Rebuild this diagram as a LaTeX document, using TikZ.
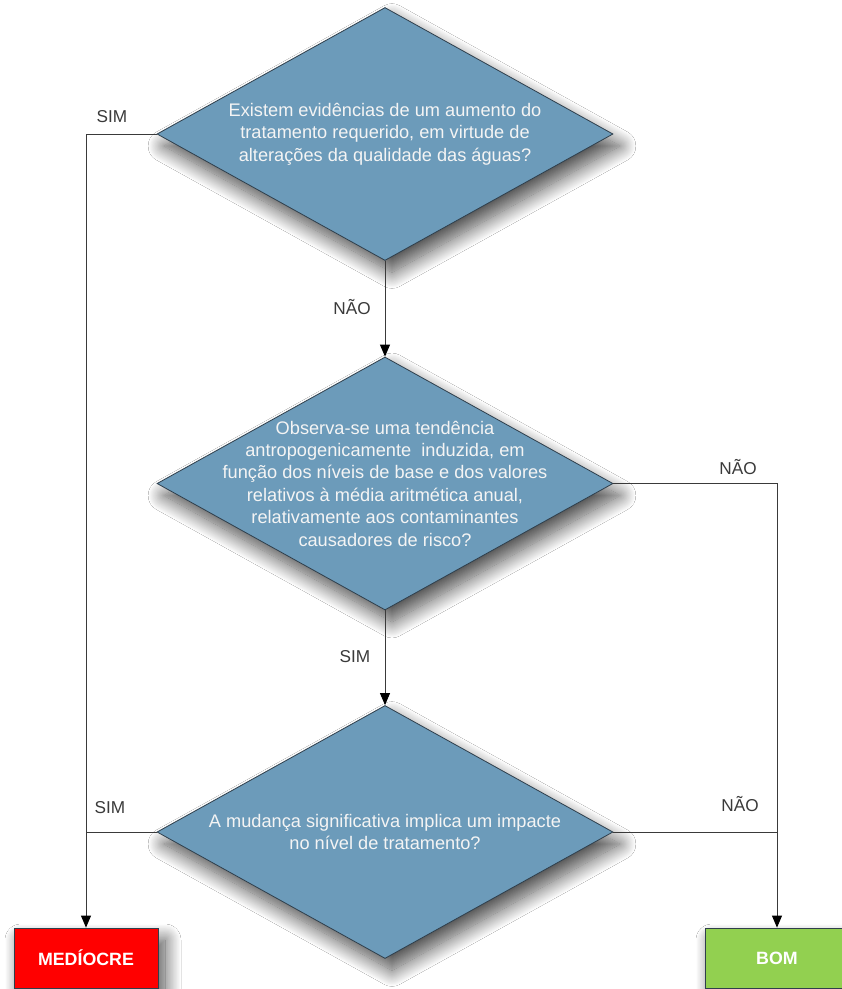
\documentclass[tikz,border=0pt]{standalone}
\usepackage{fontspec}
\setmainfont{Liberation Sans}
\usetikzlibrary{shapes.geometric,arrows.meta,shadows.blur}
\definecolor{diafill}{HTML}{6C9BBA}
\definecolor{diaedge}{HTML}{2F3F4C}
\definecolor{linec}{HTML}{3A3A3A}
\definecolor{labc}{HTML}{3A3A3A}
\definecolor{medred}{HTML}{FF0000}
\definecolor{bomgreen}{HTML}{92D050}
\definecolor{txtw}{HTML}{F4F4F4}
\tikzset{
  shd/.style={blur shadow={shadow xshift=7pt,shadow yshift=-12pt,shadow blur radius=16pt,shadow blur steps=20,shadow opacity=70}},
  dia/.style={diamond,draw=diaedge,line width=0.8pt,fill=diafill,inner sep=0pt,
    minimum width=456pt,minimum height=253pt,shd},
  dtext/.style={align=center,text=txtw,font=\fontsize{18.2}{22.4}\selectfont,inner sep=0pt},
  endbox/.style={rectangle,draw=diaedge,line width=0.8pt,minimum width=144pt,minimum height=60pt,
    text=white,font=\fontsize{17.8}{18}\selectfont\bfseries,inner sep=0pt,shd},
  conn/.style={draw=linec,line width=0.9pt},
  arr/.style={conn,-{Triangle[width=10pt,length=12pt,color=black]}},
  lab/.style={text=labc,font=\fontsize{17.2}{18}\selectfont,inner sep=0pt}
}
\begin{document}
\begin{tikzpicture}[x=1pt,y=-1pt]
\useasboundingbox (0,0) rectangle (842,989);
\clip (0,0) rectangle (842,989);
\fill[white] (0,0) rectangle (842,989);
% diamonds
\node[dia] (d1) at (385,134) {};
\node[dtext] (t1) at (d1.center) {Existem evidências de um aumento do\\tratamento requerido, em virtude de\\alterações da qualidade das águas?};
\node[dia] (d2) at (385,483.5) {};
\node[dtext] (t2) at (d2.center) {Observa-se uma tendência\\antropogenicamente\ \ induzida, em\\função dos níveis de base e dos valores\\relativos à média aritmética anual,\\relativamente aos contaminantes\\causadores de risco?};
\node[dia] (d3) at (385,832) {};
\node[dtext] (t3) at (d3.center) {A mudança significativa implica um impacte\\no nível de tratamento?};
% end boxes
\node[endbox,fill=medred] (med) at (86,958) {MEDÍOCRE};
\node[endbox,fill=bomgreen] (bom) at (777,958) {BOM};
% connectors
\draw[arr] (d1.south) -- (d2.north);
\draw[arr] (d2.south) -- (d3.north);
\draw[arr] (d1.west) -| (med.north);
\draw[conn] (d3.west) -- (d3.west -| med.north);
\draw[arr] (d2.east) -| (bom.north);
\draw[conn] (d3.east) -- (d3.east -| bom.north);
% labels
\node[lab] (l1) at (112,117) {SIM};
\node[lab] (l2) at (352,307) {NÃO};
\node[lab] (l3) at (738,467) {NÃO};
\node[lab] (l4) at (355,657) {SIM};
\node[lab] (l5) at (110,808) {SIM};
\node[lab] (l6) at (740,804) {NÃO};
\end{tikzpicture}
\end{document}
